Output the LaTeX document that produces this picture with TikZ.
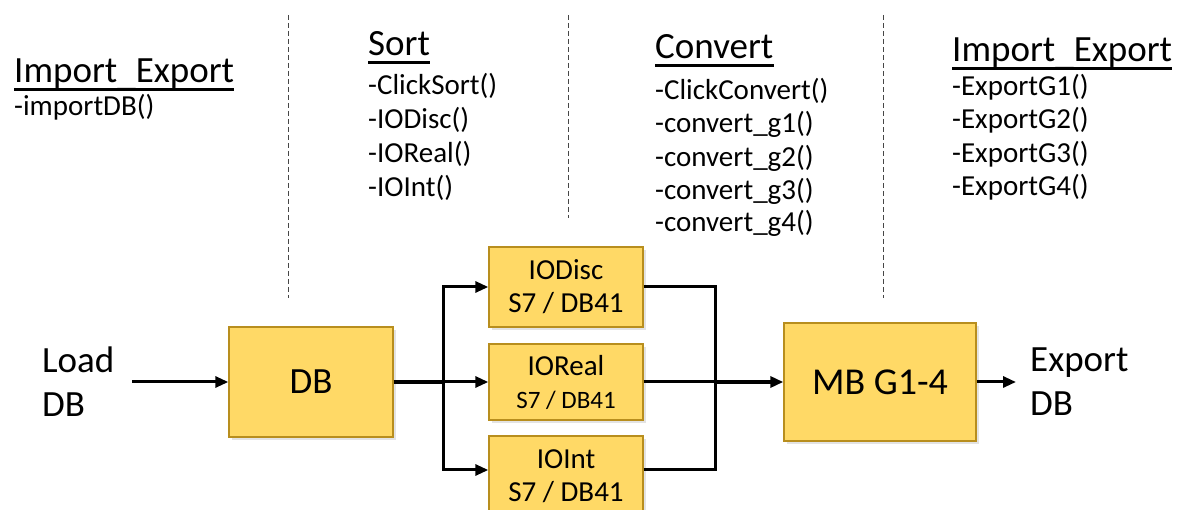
\documentclass[tikz,border=0pt]{standalone}
\usepackage{fontspec}
\setmainfont{Carlito}
\usetikzlibrary{arrows.meta,shadows}

\definecolor{boxfill}{RGB}{255,217,102}
\definecolor{boxedge}{RGB}{184,142,30}
\definecolor{sepline}{RGB}{70,70,70}

% underscore lowered onto the heading underline
\newcommand{\lowus}{\raisebox{-2.6pt}{\_}}

\begin{document}
\begin{tikzpicture}[x=1pt,y=-1pt,
  block/.style={draw=boxedge, fill=boxfill, line width=1.4pt, inner sep=0pt, align=center,
    drop shadow={opacity=0.22, shadow xshift=3pt, shadow yshift=-3pt}},
  head/.style={font=\fontsize{37}{40}\selectfont, anchor=base west, inner sep=0pt},
  item/.style={font=\fontsize{29}{32}\selectfont, anchor=base west, inner sep=0pt},
  sep/.style={draw=sepline, line width=0.9pt, dash pattern=on 5pt off 3pt},
  wire/.style={line width=3pt},
  bus/.style={line width=4.5pt},
  arr/.style={-{Triangle[length=13pt,width=11pt]}},
  uline/.style={line width=2.2pt}
]
\useasboundingbox (0,0) rectangle (1184,510);

% column separators
\coordinate (s1t) at (288,15);  \coordinate (s1b) at (288,298);
\coordinate (s2t) at (568,15);  \coordinate (s2b) at (568,218);
\coordinate (s3t) at (883,15);  \coordinate (s3b) at (883,298);
\draw[sep] (s1t) -- (s1b);
\draw[sep] (s2t) -- (s2b);
\draw[sep] (s3t) -- (s3b);

% method lists
\node[head] (hA) at (14,83) {Import\lowus Export};
\draw[uline] ([yshift=-6.5pt]hA.base west) -- ([yshift=-6.5pt]hA.base east);
\node[item] (a1) at (14,116) {-importDB()};

\node[head] (hB) at (368,56) {Sort};
\draw[uline] ([yshift=-6.5pt]hB.base west) -- ([yshift=-6.5pt]hB.base east);
\node[item] (b1) at (368,95)  {-ClickSort()};
\node[item] (b2) at (368,129) {-IODisc()};
\node[item] (b3) at (368,163) {-IOReal()};
\node[item] (b4) at (368,197) {-IOInt()};

\node[head] (hC) at (655,59) {Convert};
\draw[uline] ([yshift=-6.5pt]hC.base west) -- ([yshift=-6.5pt]hC.base east);
\node[item] (c1) at (655,100) {-ClickConvert()};
\node[item] (c2) at (655,133) {-convert\_g1()};
\node[item] (c3) at (655,167) {-convert\_g2()};
\node[item] (c4) at (655,200) {-convert\_g3()};
\node[item] (c5) at (655,232) {-convert\_g4()};

\node[head] (hD) at (952,62) {Import\lowus Export};
\draw[uline] ([yshift=-6.5pt]hD.base west) -- ([yshift=-6.5pt]hD.base east);
\node[item] (d1) at (952,96)  {-ExportG1()};
\node[item] (d2) at (952,129) {-ExportG2()};
\node[item] (d3) at (952,163) {-ExportG3()};
\node[item] (d4) at (952,196) {-ExportG4()};

% processing blocks
\node[block, minimum width=164pt, minimum height=110pt, font=\fontsize{37}{40}\selectfont] (db) at (311,382) {DB};
\node[block, minimum width=154pt, minimum height=80pt, font=\fontsize{29}{33}\selectfont] (disc) at (566,287) {IODisc\\S7 / DB41};
\node[block, minimum width=154pt, minimum height=76pt, font=\fontsize{29}{33}\selectfont] (real) at (566,382) {IOReal\\{\fontsize{25}{30}\selectfont S7 / DB41}};
\node[block, minimum width=154pt, minimum height=80pt, font=\fontsize{29}{33}\selectfont] (int) at (566,476) {IOInt\\S7 / DB41};
\node[block, minimum width=192pt, minimum height=118pt, font=\fontsize{38}{40}\selectfont] (mb) at (880,382) {MB G1-4};

% input / output labels
\node[font=\fontsize{37}{44}\selectfont, align=left, anchor=west, inner sep=0pt] (load) at (42,382) {Load\\DB};
\node[font=\fontsize{37}{44}\selectfont, align=left, anchor=west, inner sep=0pt] (export) at (1030,382) {Export\\DB};

% junction points
\coordinate (src) at (132,382);
\coordinate (fork) at (443,382);
\coordinate (join) at (715,382);
\coordinate (dst) at (1016,382);
\coordinate (intin) at ([yshift=6pt]int.west);
\coordinate (intout) at ([yshift=6pt]int.east);

% wiring
\draw[wire, arr] (src) -- (db.west);
\draw[bus] (db.east) -- (fork);
\draw[wire, arr] (fork) |- (disc.west);
\draw[wire, arr] (fork) -- (real.west);
\draw[wire, arr] (fork) |- (intin);
\draw[wire] (disc.east) -| (join);
\draw[wire] (real.east) -- (join);
\draw[wire] (intout) -| (join);
\draw[bus, arr] (join) -- (mb.west);
\draw[wire, arr] (mb.east) -- (dst);
\end{tikzpicture}
\end{document}
